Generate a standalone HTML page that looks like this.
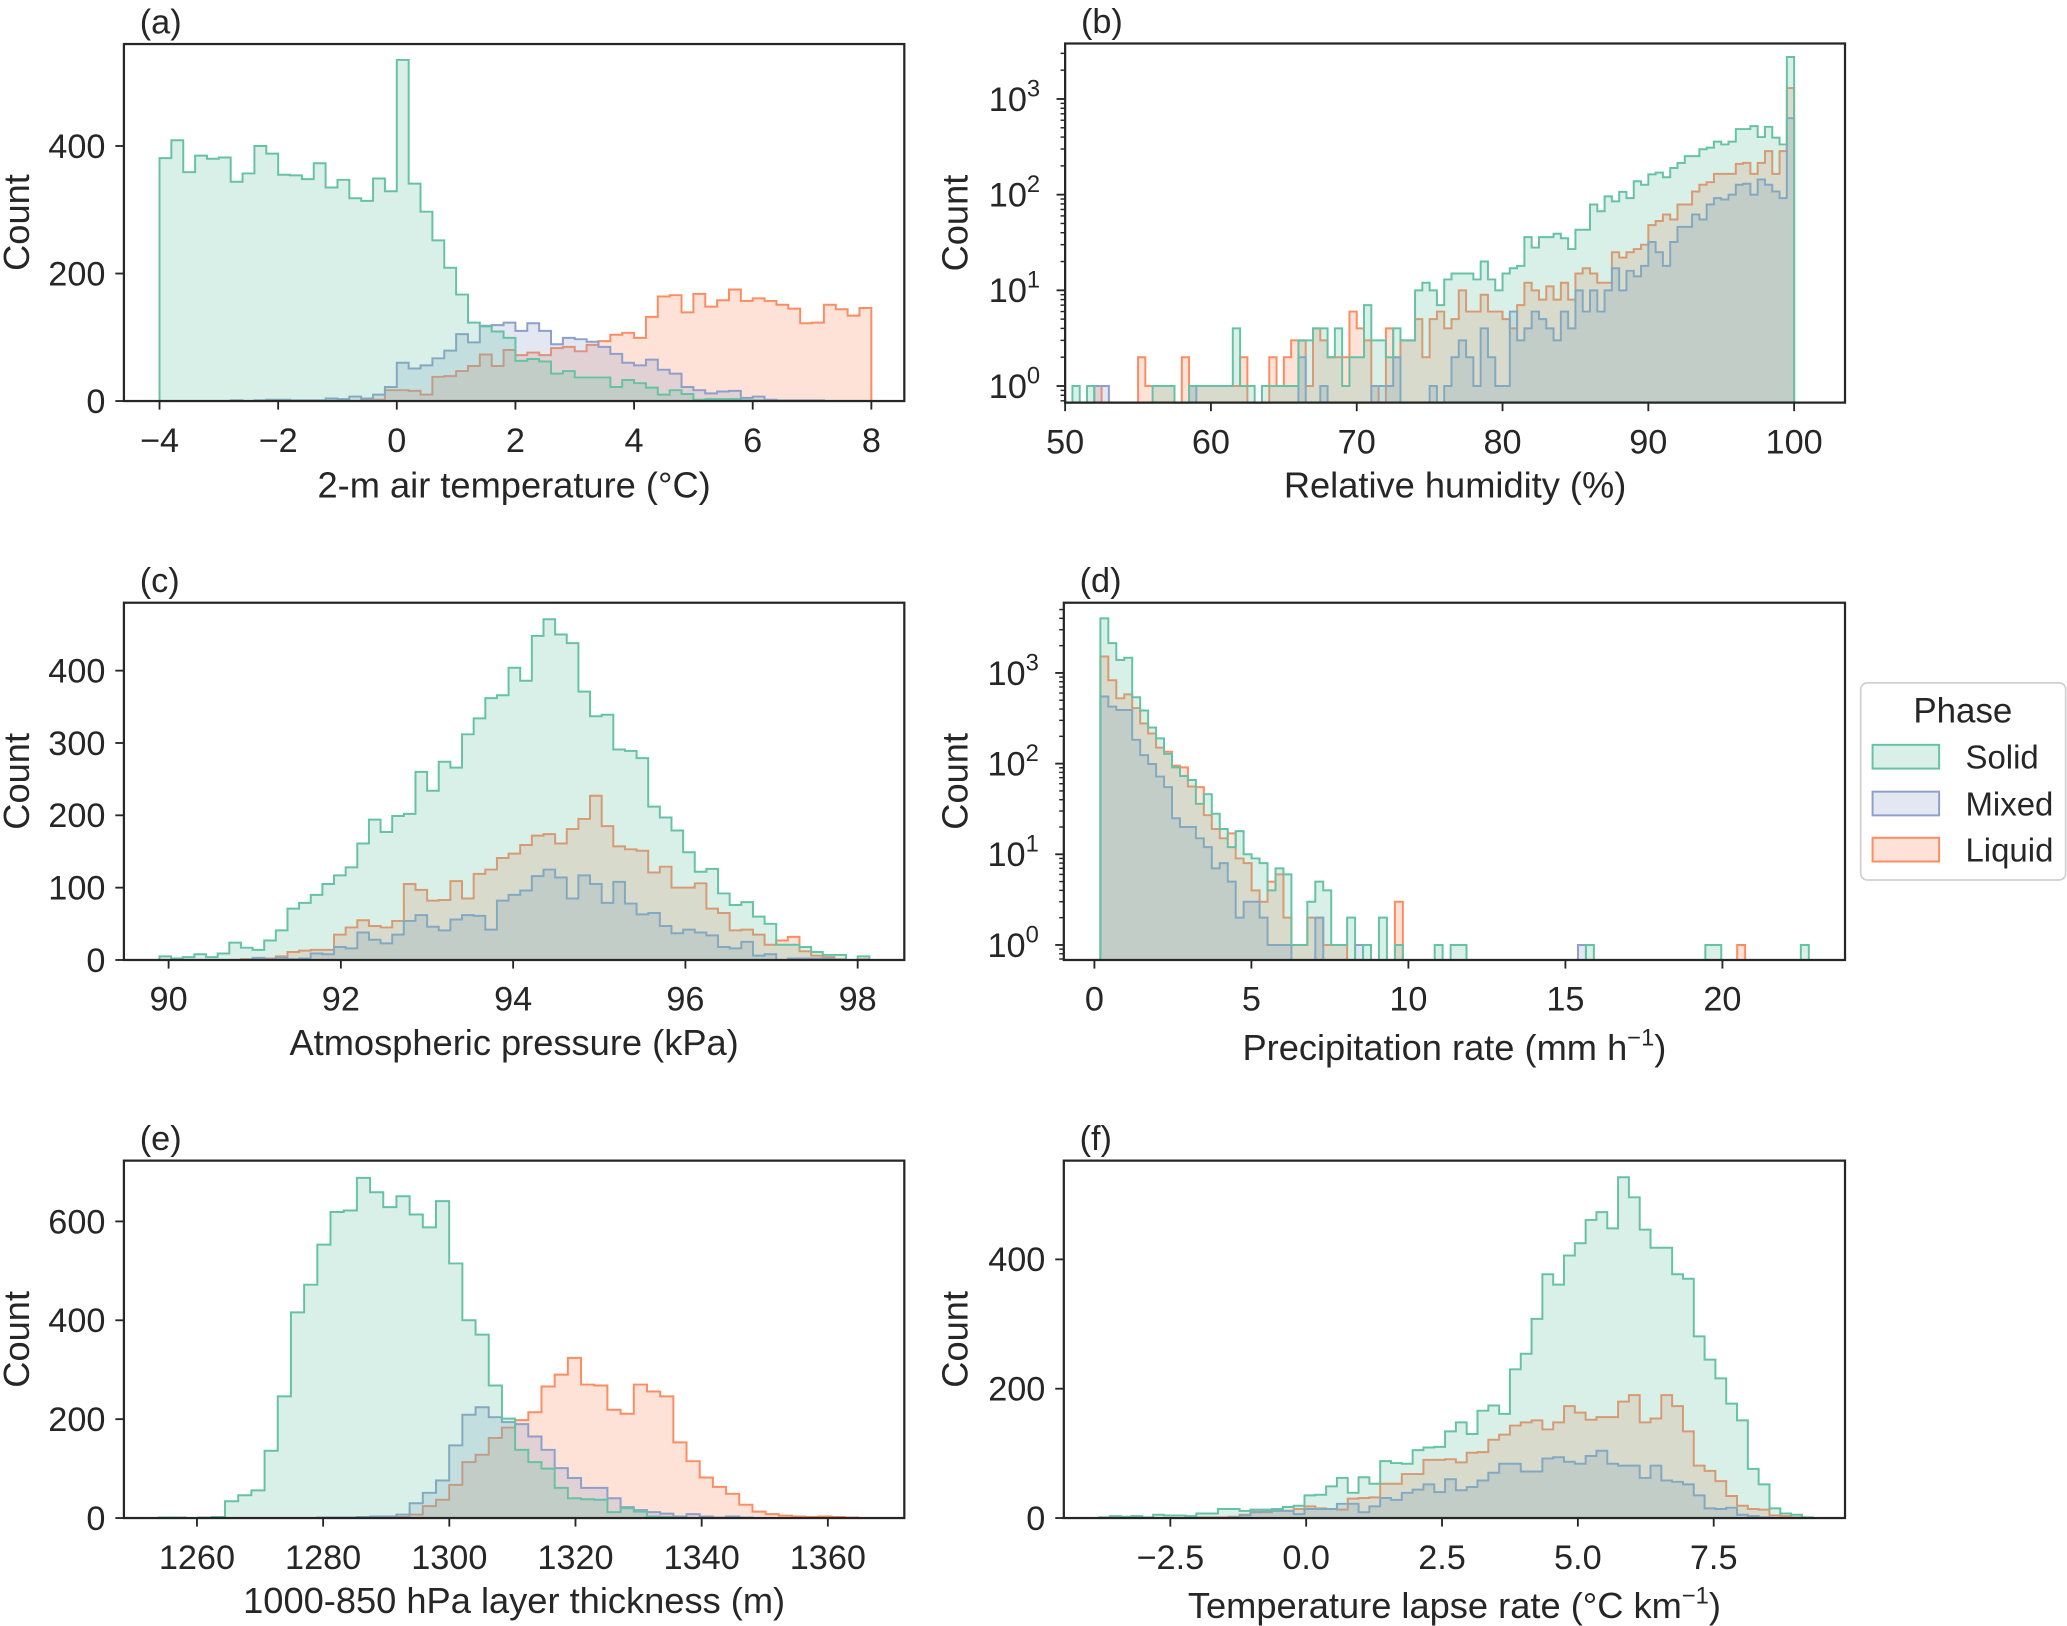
<!DOCTYPE html>
<html><head><meta charset="utf-8"><style>
html,body{margin:0;padding:0;background:#fff;}
svg{display:block;font-family:"Liberation Sans",sans-serif;}
</style></head><body>
<svg id="fig" width="2067" height="1626" viewBox="0 0 1568 1233.4" preserveAspectRatio="none" xmlns="http://www.w3.org/2000/svg">
<rect x="0" y="0" width="1568" height="1234" fill="#fff"/>
<g id="legend">
<rect x="1411.5" y="518" width="155.5" height="149.5" rx="5" fill="#fff" stroke="#d0d0d0" stroke-width="1.3"/>
<text x="1489" y="548" font-size="26.5" text-anchor="middle" fill="#262626">Phase</text>
<g><rect x="1420.5" y="565" width="50.5" height="18" fill="rgba(102,194,165,0.25)" stroke="#66c2a5" stroke-width="1.5"/><text x="1491" y="583" font-size="25" fill="#262626">Solid</text></g>
<g><rect x="1420.5" y="600.5" width="50.5" height="18" fill="rgba(141,160,203,0.25)" stroke="#8da0cb" stroke-width="1.5"/><text x="1491" y="618.5" font-size="25" fill="#262626">Mixed</text></g>
<g><rect x="1420.5" y="635.5" width="50.5" height="18" fill="rgba(252,141,98,0.25)" stroke="#fc8d62" stroke-width="1.5"/><text x="1491" y="653.5" font-size="25" fill="#262626">Liquid</text></g>
</g>
</svg>
<script>
// ---- Panel (a): 2-m air temperature, 60 bins from -4, width 0.2
const tempBinStart = -4, tempBinWidth = 0.2;
const tempSolid = [381,409,359,385,380,382,344,357,400,388,355,354,348,373,335,347,318,314,349,329,535,341,297,252,209,167,123,117,109,99,63,66,62,43,47,37,37,37,22,33,28,21,10,17,11,2,3,3,3,1,1,0,0,0,0,0,0,0,0,0];
const tempMixed = [0,0,0,0,0,0,1,0,1,2,2,1,1,1,4,3,7,4,10,22,60,51,56,67,79,105,92,118,119,123,110,122,110,89,99,97,93,85,74,60,56,65,49,43,22,17,12,15,16,5,7,2,1,1,1,1,0,0,0,0];
const tempLiquid = [0,0,0,0,0,0,0,0,0,0,0,0,0,0,0,0,0,2,2,17,17,16,10,38,39,47,55,73,55,80,72,76,72,83,85,78,88,94,104,107,99,132,164,166,139,168,148,158,175,157,161,157,151,145,122,123,151,144,134,146];
const tempXTicks = [-4,-2,0,2,4,6,8];
const tempYTicks = [0,200,400];
// ---- Panel (b): relative humidity, 100 bins from 50, width 0.5
const rhBinStart = 50, rhBinWidth = 0.5;
const rhSolid = [0,1,0,1,0,0,0,0,0,0,0,0,1,1,1,0,0,1,1,1,1,1,1,4,1,1,0,1,1,1,1,1,3,3,4,4,2,4,1,2,2,7,3,3,2,4,3,3,10,12,10,7,13,15,15,15,13,20,13,10,15,17,18,36,28,36,36,39,35,27,43,43,79,67,96,85,107,92,138,127,163,170,152,190,214,253,253,298,310,358,335,358,485,485,520,400,512,395,335,2750];
const rhMixed = [0,0,0,0,1,1,0,0,0,0,0,0,0,0,0,0,0,1,0,0,0,0,0,0,0,0,0,0,0,0,0,0,2,0,0,1,0,0,0,0,0,0,1,1,1,2,0,0,0,0,1,0,1,2,3,2,1,4,2,1,1,6,3,4,6,5,4,3,6,4,10,6,10,6,10,17,10,16,14,18,32,25,18,32,46,46,62,55,79,92,89,100,127,130,100,144,127,108,92,630];
const rhLiquid = [0,0,0,0,1,0,0,0,0,0,2,1,1,1,1,0,2,1,1,1,1,1,1,1,2,0,0,0,2,1,2,3,3,1,4,3,2,2,2,6,4,3,1,0,4,2,3,3,5,2,5,6,4,5,10,6,6,9,6,6,5,4,7,12,10,8,11,8,12,8,15,17,15,12,12,25,22,25,27,30,48,53,62,55,79,79,108,127,135,165,165,165,210,215,165,215,285,165,285,1300];
const rhXTicks = [50,60,70,80,90,100];
const rhYTicks = [0,1,2,3];
// ---- Panel (c): atmospheric pressure, 61 bins
const presBinStart = 89.894, presBinWidth = 0.1351;
const presSolid = [5,2,4,8,4,9,24,17,14,27,41,71,79,90,105,117,128,161,194,177,199,202,260,234,274,266,312,334,362,366,404,386,448,471,450,438,371,337,339,291,289,279,212,197,179,149,122,126,92,76,80,60,50,21,21,18,11,7,7,0,5];
const presMixed = [0,0,0,0,0,0,0,0,3,1,3,1,2,9,8,18,16,38,28,23,35,54,62,46,41,56,62,61,42,82,90,96,116,125,114,85,117,105,79,108,78,63,65,47,37,42,38,34,18,16,25,6,8,0,2,2,2,2,0,0,0];
const presLiquid = [0,0,0,0,0,0,0,1,1,2,5,11,13,14,14,35,45,55,47,45,54,105,97,82,83,109,85,119,125,141,147,159,172,174,161,181,195,227,185,157,153,151,121,129,100,100,106,71,65,41,42,35,21,27,32,12,6,4,1,0,1];
const presXTicks = [90,92,94,96,98];
const presYTicks = [0,100,200,300,400];
// ---- Panel (d): precipitation rate, 90 bins
const precBinStart = 0.19, precBinWidth = 0.2535;
const precSolid = [4000,2130,1390,1470,540,385,250,190,128,91,73,66,36,46,28,19,12,18,10,9,8,4,7,6,1,1,3,5,4,1,1,2,0,1,0,2,0,1,0,0,0,0,1,0,1,1,0,0,0,0,0,0,0,0,0,0,0,0,0,0,0,1,0,0,0,0,0,0,0,0,0,0,0,0,0,0,1,1,0,0,0,0,0,0,0,0,0,0,1,0];
const precMixed = [550,425,390,390,183,124,99,72,55,25,20,20,15,12,7,8,5,2,3,3,2,1,1,1,0,0,0,2,0,0,0,0,1,0,0,0,0,0,0,0,0,0,0,0,0,0,0,0,0,0,0,0,0,0,0,0,0,0,0,0,1,0,0,0,0,0,0,0,0,0,0,0,0,0,0,0,0,0,0,0,0,0,0,0,0,0,0,0,0,0];
const precLiquid = [1520,830,525,580,410,277,215,150,135,95,91,56,55,27,19,15,17,9,8,4,3,5,6,2,1,1,2,2,1,1,1,0,0,0,0,0,0,3,0,0,0,0,0,0,0,0,0,0,0,0,0,0,0,0,0,0,0,0,0,0,0,0,0,0,0,0,0,0,0,0,0,0,0,0,0,0,0,0,0,0,1,0,0,0,0,0,0,0,0,0];
const precXTicks = [0,5,10,15,20];
const precYTicks = [0,1,2,3];
// ---- Panel (e): layer thickness, 54 bins
const thickBinStart = 1254, thickBinWidth = 2.09;
const thickSolid = [1,1,0,1,2,34,46,56,136,246,416,472,553,619,622,688,659,629,651,614,588,641,515,400,371,268,201,138,113,100,61,40,38,37,12,20,13,3,2,1,0,0,0,0,0,0,0,0,0,0,0,0,0,0];
const thickMixed = [0,0,0,0,0,0,0,0,0,0,0,0,1,1,1,2,3,3,7,30,51,76,147,209,224,204,194,190,165,138,101,81,61,61,40,22,16,12,9,3,8,3,1,3,1,0,0,0,0,0,0,0,0,0];
const thickLiquid = [0,0,0,0,0,0,0,0,0,0,0,0,0,0,0,0,0,0,2,7,24,37,67,113,128,162,183,198,214,266,290,324,270,268,219,211,270,256,246,153,115,82,63,49,27,13,8,5,3,2,3,2,1,0];
const thickXTicks = [1260,1280,1300,1320,1340,1360];
const thickYTicks = [0,200,400,600];
// ---- Panel (f): lapse rate, 66 bins
const lapseBinStart = -3.812, lapseBinWidth = 0.199;
const lapseSolid = [1,3,2,3,1,5,4,4,3,7,7,14,14,11,13,13,14,17,19,35,36,49,62,39,63,53,88,85,84,105,109,110,134,148,130,166,174,161,230,254,308,377,361,406,425,461,473,448,527,496,446,418,418,377,370,281,245,216,177,151,76,52,15,7,5,1];
const lapseMixed = [0,0,0,0,0,0,0,0,0,0,0,0,1,4,9,10,11,11,6,14,14,14,22,22,9,18,31,28,39,44,52,40,60,43,48,58,70,84,84,72,72,92,94,87,84,96,104,84,81,81,62,81,58,56,52,35,15,14,16,5,3,1,0,0,0,0];
const lapseLiquid = [0,0,0,0,0,0,0,0,0,1,1,1,2,5,10,9,13,11,14,18,15,14,13,30,31,32,53,53,68,68,90,90,91,86,101,102,121,129,143,148,151,137,148,173,163,152,156,156,180,190,148,154,190,173,134,81,73,57,34,19,14,13,4,3,1,0];
const lapseXTicks = [-2.5,0,2.5,5,7.5];
const lapseYTicks = [0,200,400];

const NS = 'http://www.w3.org/2000/svg';
const svg = document.getElementById('fig');
const legendNode = document.getElementById('legend');
const COL = {solid:'#66c2a5', mixed:'#8da0cb', liquid:'#fc8d62'};
const TICK_FS = 26, LAB_FS = 27.5, SUP_FS = 18;
function mk(tag, attrs, parent){const e=document.createElementNS(NS,tag);for(const k in attrs)e.setAttribute(k,attrs[k]);(parent||svg).appendChild(e);return e;}
function fmt(v){return String(v).replace('-','\u2212');}

function panel(cfg){
  const g = mk('g',{});
  
  
  svg.insertBefore(g, legendNode);
  const [L,T,R,B] = cfg.frame;
  const xs = cfg.x, ys = cfg.y;
  const series = [['liquid',cfg.liquid],['mixed',cfg.mixed],['solid',cfg.solid]];
  for (const [nm,vals] of series){
    let d = '';
    const base = B;
    d += 'M'+xs(cfg.start)+','+base;
    for (let i=0;i<vals.length;i++){
      const x0 = xs(cfg.start+i*cfg.width), x1 = xs(cfg.start+(i+1)*cfg.width);
      const yy = Math.min(ys(vals[i]), base);
      d += ' L'+x0+','+yy+' L'+x1+','+yy;
    }
    d += ' L'+xs(cfg.start+vals.length*cfg.width)+','+base;
    const fill = mk('path',{d:d+' Z',fill:COL[nm],'fill-opacity':0.25,stroke:'none'},g);
    
    
    const line = mk('path',{d:d,fill:'none',stroke:COL[nm],'stroke-width':1.5,'stroke-linejoin':'miter'},g);
    
    
  }
  const fr = mk('rect',{x:L,y:T,width:R-L,height:B-T,fill:'none',stroke:'#262626','stroke-width':1.7},g);
  
  
  for (const v of cfg.xticks){
    const X = xs(v);
    mk('line',{x1:X,y1:B,x2:X,y2:B+6.5,stroke:'#262626','stroke-width':1.4},g);
    const t = mk('text',{x:X,y:B+38.5,'font-size':TICK_FS,'text-anchor':'middle',fill:'#262626'},g);
    t.textContent = cfg.xfmt ? cfg.xfmt(v) : fmt(v);
    
    
  }
  if (cfg.log){
    for (const e of cfg.yticks){
      const Y = ys(Math.pow(10,e));
      mk('line',{x1:L,y1:Y,x2:L-6.5,y2:Y,stroke:'#262626','stroke-width':1.4},g);
      const t = mk('text',{x:L-19,y:Y+9,'font-size':TICK_FS,'text-anchor':'end',fill:'#262626'},g);
      
      
      const a = mk('tspan',{},t); a.textContent='10';
      const s = mk('tspan',{dy:-11,'font-size':SUP_FS},t); s.textContent=String(e);
      for (let m=2;m<=9;m++){
        const Ym = ys(m*Math.pow(10,e));
        if (Ym>T && Ym<B) mk('line',{x1:L,y1:Ym,x2:L-3.5,y2:Ym,stroke:'#262626','stroke-width':1.1},g);
      }
    }
    for (let m=2;m<=9;m++){const Ym=ys(m/10); if(Ym>T&&Ym<B) mk('line',{x1:L,y1:Ym,x2:L-3.5,y2:Ym,stroke:'#262626','stroke-width':1.1},g);}
  } else {
    for (const v of cfg.yticks){
      const Y = ys(v);
      mk('line',{x1:L,y1:Y,x2:L-6.5,y2:Y,stroke:'#262626','stroke-width':1.4},g);
      const t = mk('text',{x:L-14,y:Y+9,'font-size':TICK_FS,'text-anchor':'end',fill:'#262626'},g);
      t.textContent = String(v);
      
      
    }
  }
  const xl = mk('text',{x:(L+R)/2,y:B+cfg.xlabY,'font-size':LAB_FS,'text-anchor':'middle',fill:'#262626'},g);
  
  
  const m0 = mk('tspan',{},xl); m0.textContent = cfg.xlabel;
  if (cfg.xsup){
    const s = mk('tspan',{dy:-11,'font-size':SUP_FS},xl); s.textContent=cfg.xsup;
    const e2 = mk('tspan',{dy:11},xl); e2.textContent=')';
  }
  const cy = (T+B)/2;
  const yl = mk('text',{x:0,y:0,'font-size':LAB_FS,'text-anchor':'middle',fill:'#262626',transform:'translate('+(L-cfg.ylabOff)+','+cy+') rotate(-90)'},g);
  yl.textContent = 'Count';
  
  
  const pl = mk('text',{x:L+12,y:T-8,'font-size':TICK_FS,fill:'#262626'},g);
  pl.textContent = cfg.tag;
  
  
}

panel({name:'panel-a-temperature',tag:'(a)',frame:[94,33.4,686,304.2],start:tempBinStart,width:tempBinWidth,
  solid:tempSolid,mixed:tempMixed,liquid:tempLiquid,xticks:tempXTicks,yticks:tempYTicks,
  x:v=>121.0+(v+4)*45.0,y:c=>304.2-c*0.4836,xlabel:'2-m air temperature (°C)',xlabY:73,ylabOff:72});
panel({name:'panel-b-humidity',tag:'(b)',frame:[808,33,1399.6,305.4],start:rhBinStart,width:rhBinWidth,
  solid:rhSolid,mixed:rhMixed,liquid:rhLiquid,xticks:rhXTicks,yticks:rhYTicks,log:true,
  x:v=>808+(v-50)*11.06,y:c=>c<=0?400:292.8-Math.log10(c)*72.57,xlabel:'Relative humidity (%)',xlabY:72,ylabOff:74});
panel({name:'panel-c-pressure',tag:'(c)',frame:[94,457.2,686,728.2],start:presBinStart,width:presBinWidth,
  solid:presSolid,mixed:presMixed,liquid:presLiquid,xticks:presXTicks,yticks:presYTicks,
  x:v=>127.9+(v-90)*65.34,y:c=>728.2-c*0.5487,xlabel:'Atmospheric pressure (kPa)',xlabY:72,ylabOff:72});
panel({name:'panel-d-precipitation',tag:'(d)',frame:[807,457.2,1399.6,728.2],start:precBinStart,width:precBinWidth,
  solid:precSolid,mixed:precMixed,liquid:precLiquid,xticks:precXTicks,yticks:precYTicks,log:true,
  x:v=>830.2+v*23.82,y:c=>c<=0?900:716.8-Math.log10(c)*68.78,xlabel:'Precipitation rate (mm h',xsup:'\u22121',xlabY:76,ylabOff:73});
panel({name:'panel-e-thickness',tag:'(e)',frame:[94,880.4,686,1151.5],start:thickBinStart,width:thickBinWidth,
  solid:thickSolid,mixed:thickMixed,liquid:thickLiquid,xticks:thickXTicks,yticks:thickYTicks,
  x:v=>149.4+(v-1260)*4.786,y:c=>1151.5-c*0.375,xlabel:'1000-850 hPa layer thickness (m)',xlabY:72,ylabOff:72});
panel({name:'panel-f-lapse-rate',tag:'(f)',frame:[807,880.4,1399.6,1151.5],start:lapseBinStart,width:lapseBinWidth,
  solid:lapseSolid,mixed:lapseMixed,liquid:lapseLiquid,xticks:lapseXTicks,yticks:lapseYTicks,
  x:v=>887.8+(v+2.5)*41.22,y:c=>1151.5-c*0.4905,xlabel:'Temperature lapse rate (°C km',xsup:'\u22121',xlabY:76,ylabOff:73,
  xfmt:v=>fmt(v.toFixed(1))});
</script>
</body></html>
